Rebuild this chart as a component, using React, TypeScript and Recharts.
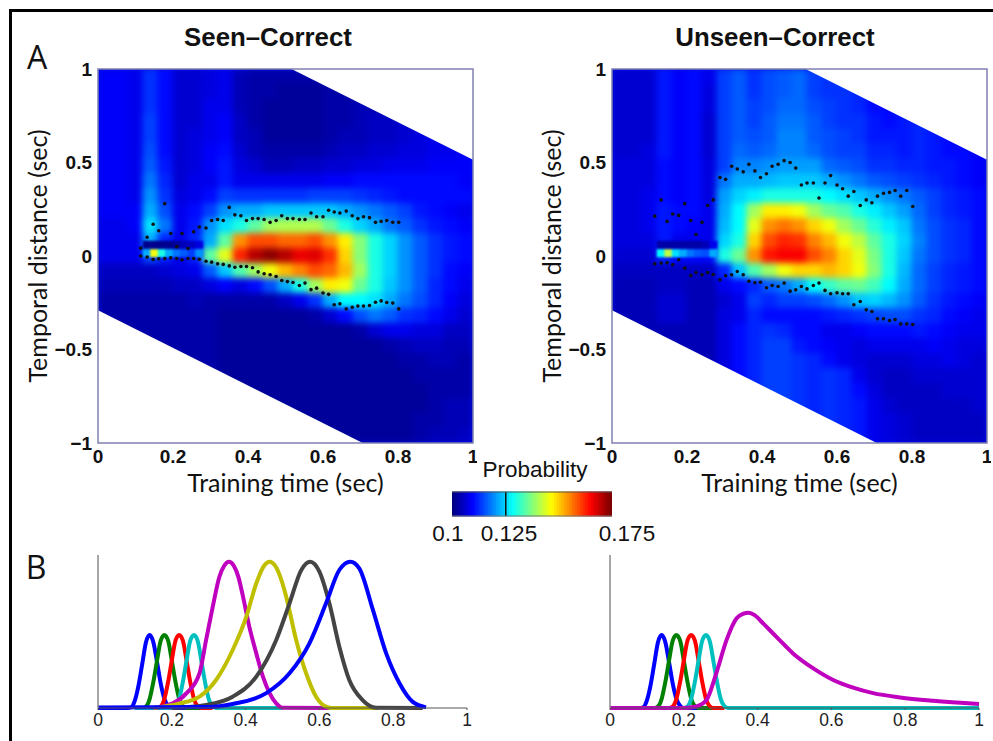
import {
  ScatterChart, Scatter, ComposedChart, LineChart, BarChart, Bar, Line, Area, Cell,
  XAxis, YAxis, ReferenceArea, ReferenceLine
} from 'recharts'

// heat map grid, values are probability x 1000
const colX = [.02,.06,.10,.14,.18,.22,.26,.30,.34,.38,.42,.46,.50,.54,.58,.62,.66,.70,.74,.78,.82,.86,.90,.94,.98]
const rowY = [.96,.88,.80,.72,.64,.56,.48,.40,.32,.24,.16,.08,0,-.08,-.16,-.24,-.32,-.40,-.48,-.56,-.64,-.72,-.80,-.88,-.96]

const seenRows = [
  [109,109,108,113,110,106,106,107,108,104,103,103,103,103,103,103,104,104,105,105,106,106,107,107,108],
  [109,109,108,113,110,106,106,107,108,104,103,103,102,102,102,103,103,104,104,105,105,106,107,107,108],
  [109,109,108,113,110,106,106,108,108,104,103,102,102,102,102,103,103,104,104,105,105,106,107,108,108],
  [109,109,108,114,110,106,106,108,109,105,103,102,102,102,102,103,103,104,105,105,106,106,107,108,108],
  [109,109,108,114,110,106,107,108,109,105,104,102,102,102,102,103,104,104,105,105,106,107,108,108,109],
  [109,109,108,115,110,106,107,109,110,106,104,103,103,103,103,104,105,105,106,106,107,107,108,108,109],
  [109,109,108,116,111,106,107,109,111,107,106,104,104,105,105,106,106,107,107,108,108,108,109,109,109],
  [109,109,108,118,112,106,108,108,111,108,108,108,108,108,108,109,109,110,110,110,110,110,110,110,109],
  [109,109,108,120,113,107,108,110,114,113,113,113,113,113,114,114,114,113,112,111,110,110,110,110,110],
  [109,109,109,122,115,108,110,114,120,122,122,124,124,124,124,124,122,120,118,116,114,111,110,109,108],
  [108,108,109,126,118,108,111,120,126,130,135,140,141,141,141,136,130,125,122,118,116,113,111,110,109],
  [108,108,108,122,112,108,112,122,135,155,160,160,158,158,160,155,148,138,130,125,120,116,113,111,110],
  [108,108,108,115,112,108,112,135,145,163,171,174,171,167,168,162,150,138,130,125,120,116,113,111,110],
  [105,105,105,105,106,107,108,116,124,134,140,146,152,156,160,158,152,140,130,125,120,116,113,110,109],
  [104,104,104,104,104,105,105,107,109,107,110,115,122,130,140,148,146,136,130,124,120,116,112,110,108],
  [103,103,103,103,103,103,104,103,103,103,103,103,105,108,113,122,128,128,126,122,118,115,112,109,107],
  [103,103,103,103,103,103,103,103,102,102,102,102,102,102,103,106,110,115,118,116,113,112,110,108,106],
  [103,103,103,103,103,103,103,103,102,102,102,102,102,102,102,102,102,103,106,108,108,107,107,105,105],
  [103,103,103,103,103,103,103,103,102,102,102,102,102,102,102,102,102,102,102,103,104,105,105,104,104],
  [103,103,103,103,103,103,103,103,102,102,102,102,102,102,102,102,102,102,102,102,103,103,104,104,103],
  [103,103,103,103,103,103,103,103,102,102,102,102,102,102,102,102,102,102,102,102,102,103,103,103,103],
  [103,103,103,103,103,103,103,103,102,102,102,102,102,102,102,102,102,102,102,102,102,102,103,103,103],
  [103,103,103,103,103,103,103,103,102,102,102,102,102,102,102,102,102,102,102,102,102,102,103,104,104],
  [103,103,103,103,103,103,103,103,102,102,102,102,102,102,102,102,102,102,102,102,102,103,103,104,104],
  [103,103,103,103,103,103,103,103,102,102,102,102,102,102,102,102,102,102,102,102,102,103,104,104,105],
]

const unseenRows = [
  [106,106,106,111,109,110,108,114,116,113,115,116,117,114,113,113,112,110,110,111,112,111,110,109,108],
  [106,106,106,111,109,110,107,114,116,113,115,116,117,114,113,113,112,110,110,111,112,111,110,109,108],
  [106,106,106,111,109,110,107,114,116,114,115,117,117,115,114,113,112,110,110,111,112,111,110,109,108],
  [106,106,106,111,109,110,106,114,116,114,116,118,118,116,114,113,113,111,110,111,112,111,110,109,108],
  [106,106,106,111,109,110,106,114,116,115,116,119,119,116,115,114,113,111,111,111,112,111,110,109,108],
  [106,106,107,111,109,110,106,114,117,116,117,119,119,117,115,114,114,112,112,111,112,111,110,110,109],
  [107,107,107,110,109,110,107,114,119,119,120,121,121,121,117,116,115,113,113,112,112,111,111,110,109],
  [107,107,107,110,109,110,107,118,122,122,123,124,124,124,122,120,118,116,115,114,113,112,111,110,109],
  [107,107,108,110,109,110,107,121,125,127,130,130,130,130,128,126,124,122,120,118,116,114,112,111,110],
  [107,107,108,111,110,110,108,122,128,140,148,148,146,140,136,134,130,127,124,121,117,114,112,111,110],
  [107,107,108,111,110,109,108,123,128,145,155,157,155,150,146,140,136,131,127,124,118,115,113,112,110],
  [107,107,107,111,108,108,108,125,130,150,160,163,162,156,152,146,142,135,130,125,119,115,113,112,110],
  [106,106,106,112,110,110,110,130,136,155,164,166,166,160,156,150,145,137,130,124,118,115,113,112,110],
  [105,105,105,105,105,105,105,112,124,134,140,146,150,150,152,150,146,138,130,123,117,114,112,111,110],
  [104,104,104,105,105,104,104,108,110,112,116,118,122,128,132,135,136,133,128,122,117,114,112,111,110],
  [104,104,104,106,106,104,104,106,108,114,112,114,114,115,117,120,124,125,123,120,116,113,111,110,109],
  [104,104,104,106,106,104,104,107,108,112,110,110,110,110,111,112,113,114,115,115,113,112,110,109,108],
  [104,104,104,104,104,104,104,107,110,112,113,112,110,110,108,108,109,110,110,110,111,110,109,108,108],
  [104,104,104,104,104,104,104,107,110,112,114,114,111,110,109,108,107,108,108,108,108,109,108,107,107],
  [104,104,104,104,104,104,104,107,110,112,114,114,113,112,110,108,107,106,106,106,107,107,108,107,106],
  [104,104,104,104,104,104,104,107,110,112,114,114,113,112,113,112,108,106,105,105,106,106,106,106,106],
  [104,104,104,104,104,104,104,107,110,112,114,114,113,112,113,112,110,107,105,105,105,105,106,106,106],
  [104,104,104,104,104,104,104,107,110,112,114,114,113,112,113,112,111,108,106,105,105,105,105,105,106],
  [104,104,104,104,104,104,104,107,110,112,114,114,113,112,113,112,111,108,107,106,105,105,105,105,105],
  [104,104,104,104,104,104,104,107,110,112,114,114,113,112,113,112,111,108,107,106,105,105,105,105,105],
]

// thin features around decoding onset, finer than the main grid
const onsetX = [.13,.15,.17,.19,.21,.23,.25,.27]
const seenDarkBand = [101,101,101,101,102,104,105,107]
const seenRidge = [122,146,130,122,118,116,114,120]
const unseenDarkBand = [103,103,103,103,103,103,104,108]
const unseenRidge = [128,142,126,122,118,116,115,122]

// significance dots
const dotX = [.114,.131,.147,.162,.178,.194,.21,.224,.24,.255,.27,.288,.303,.319,.334,.35,.365,.381,.396,.412,.427,.443,.459,.475,.49,.505,.52,.537,.552,.568,.583,.6,.615,.63,.645,.662,.678,.693,.708,.724,.74,.755,.77,.786,.802]
const seenUpper = [.042,.10,.17,.135,.28,.12,.05,.12,.04,.13,.155,.15,.19,.195,.19,.26,.22,.215,.19,.20,.20,.195,.18,.19,.215,.20,.20,.195,.195,.23,.21,.21,.245,.235,.23,.24,.215,.20,.21,.205,.18,.185,.19,.18,.18]
const seenLower = [0,-.006,-.019,-.015,-.014,-.010,-.013,-.02,-.013,-.013,-.017,-.028,-.033,-.042,-.045,-.053,-.06,-.056,-.056,-.063,-.085,-.095,-.1,-.11,-.131,-.137,-.142,-.158,-.145,-.18,-.172,-.198,-.205,-.261,-.256,-.283,-.274,-.268,-.268,-.265,-.247,-.24,-.249,-.252,-.283]
const unseenUpper = [.213,.30,.185,.225,.217,.28,.19,.115,.18,.27,.30,.42,.41,.48,.465,.45,.49,.455,.42,.44,.48,.49,.51,.50,.47,.38,.39,.39,.31,.39,.43,.38,.36,.32,.345,.27,.30,.285,.32,.335,.34,.35,.32,.35,.265]
const unseenLower = [-.042,-.038,-.036,-.047,-.02,-.065,-.104,-.088,-.1,-.088,-.099,-.127,-.106,-.1,-.083,-.1,-.135,-.143,-.14,-.17,-.158,-.163,-.145,-.188,-.181,-.163,-.176,-.158,-.145,-.184,-.202,-.197,-.202,-.202,-.261,-.243,-.288,-.297,-.336,-.336,-.345,-.34,-.363,-.363,-.366]

// blank corners of the time-by-time matrix
const maskTop = [{ x: .516, band: [1, 1] }, { x: 1, band: [.515, 1] }]
const maskBottom = [{ x: 0, band: [-1, -.29] }, { x: .706, band: [-1, -1] }]

const xTicks = [0, .2, .4, .6, .8, 1]
const yTicks = [-1, -.5, 0, .5, 1]
const colorbarSteps = [100,101.25,102.5,103.75,105,106.25,107.5,108.75,110,111.25,112.5,113.75,115,116.25,117.5,118.75,120,121.25,122.5,123.75,125,126.25,127.5,128.75,130,131.25,132.5,133.75,135,136.25,137.5,138.75,140,141.25,142.5,143.75,145,146.25,147.5,148.75,150,151.25,152.5,153.75,155,156.25,157.5,158.75,160,161.25,162.5,163.75,165,166.25,167.5,168.75,170,171.25,172.5,173.75,175]

// template time courses, [time, amplitude]
const seenCurves = [
  { color: '#0000ff', pts: [[0,0],[.08,0],[.09,.005],[.10,.05],[.11,.15],[.12,.29],[.13,.43],[.14,.477],[.15,.43],[.16,.3],[.17,.16],[.18,.06],[.19,.015],[.20,0],[.3,0]] },
  { color: '#008000', pts: [[.1,0],[.12,0],[.13,.01],[.14,.06],[.15,.17],[.16,.31],[.17,.44],[.18,.477],[.19,.44],[.20,.31],[.21,.17],[.22,.06],[.23,.012],[.24,0],[.3,0]] },
  { color: '#ff0000', pts: [[.1,0],[.16,0],[.17,.01],[.18,.06],[.19,.17],[.20,.31],[.21,.44],[.22,.477],[.23,.44],[.24,.31],[.25,.17],[.26,.06],[.27,.012],[.28,0],[.31,0]] },
  { color: '#00bfbf', pts: [[.1,0],[.2,0],[.21,.01],[.22,.06],[.23,.17],[.24,.31],[.25,.44],[.26,.477],[.27,.44],[.28,.31],[.29,.17],[.30,.06],[.31,.012],[.32,0],[.5,0]] },
  { color: '#bf00bf', pts: [[.15,0],[.203,.03],[.24,.097],[.275,.227],[.293,.445],[.311,.662],[.329,.858],[.342,.93],[.355,.956],[.368,.93],[.38,.86],[.393,.728],[.41,.532],[.429,.357],[.447,.205],[.465,.097],[.483,.03],[.5,.002],[.63,0]] },
  { color: '#bfbf00', pts: [[.15,0],[.221,.03],[.275,.074],[.32,.183],[.365,.379],[.402,.597],[.429,.815],[.45,.93],[.465,.956],[.48,.93],[.495,.85],[.51,.728],[.537,.445],[.564,.227],[.591,.074],[.618,.009],[.636,0],[.76,0]] },
  { color: '#444444', pts: [[.2,0],[.293,.02],[.365,.074],[.429,.205],[.483,.445],[.519,.684],[.551,.902],[.575,.956],[.6,.891],[.627,.684],[.654,.401],[.681,.183],[.717,.052],[.754,.002],[.88,0]] },
  { color: '#0000ff', pts: [[0,.004],[.3,.006],[.365,.026],[.456,.097],[.519,.227],[.573,.423],[.618,.684],[.654,.902],[.684,.956],[.708,.913],[.745,.641],[.781,.357],[.817,.162],[.853,.04],[.889,.004]] },
]
const unseenCurves = [
  { color: '#0000ff', pts: [[0,0],[.08,0],[.09,.005],[.10,.05],[.11,.15],[.12,.29],[.13,.43],[.14,.477],[.15,.43],[.16,.3],[.17,.16],[.18,.06],[.19,.015],[.20,0],[.3,0]] },
  { color: '#008000', pts: [[.1,0],[.12,0],[.13,.01],[.14,.06],[.15,.17],[.16,.31],[.17,.44],[.18,.477],[.19,.44],[.20,.31],[.21,.17],[.22,.06],[.23,.012],[.24,0],[.3,0]] },
  { color: '#ff0000', pts: [[.1,0],[.16,0],[.17,.01],[.18,.06],[.19,.17],[.20,.31],[.21,.44],[.22,.477],[.23,.44],[.24,.31],[.25,.17],[.26,.06],[.27,.012],[.28,0],[.31,0]] },
  { color: '#00bfbf', pts: [[.1,0],[.2,0],[.21,.01],[.22,.06],[.23,.17],[.24,.31],[.25,.44],[.26,.477],[.27,.44],[.28,.31],[.29,.17],[.30,.06],[.31,.012],[.32,0],[1,0]] },
  { color: '#bf00bf', pts: [[0,0],[.2,0],[.234,.01],[.261,.05],[.288,.227],[.316,.445],[.343,.586],[.36,.615],[.376,.623],[.392,.607],[.415,.553],[.451,.465],[.496,.357],[.551,.259],[.605,.183],[.659,.133],[.713,.097],[.786,.069],[.876,.047],[1,.026]] },
]

function heatColor(v: number) {
  const t = Math.min(1, Math.max(0, (v - 100) / 75))
  const ramp = (d: number) => Math.round(255 * Math.min(1, Math.max(0, 1.5 - Math.abs(4 * t - d))))
  return `rgb(${ramp(3)},${ramp(2)},${ramp(1)})`
}

const HeatCell = ({ cx, cy, payload, size }: any) => (
  <rect x={cx - size / 2} y={cy - size / 2} width={size} height={size} fill={heatColor(payload.v)} />
)
const Dot = ({ cx, cy }: any) => <circle cx={cx} cy={cy} r={1.8} fill="#111" />

const tickFont = { fontFamily: 'Liberation Sans', fontWeight: 700, fontSize: 19, fill: '#111' }
const labelFont = { fontFamily: 'Lato', fontSize: 25, fill: '#111' }

function toCells(rows: number[][]) {
  return rows.flatMap((r, i) => r.map((v, j) => ({ x: colX[j], y: rowY[i], v })))
}

function HeatPanel({ left, rows, dark, ridge, upper, lower }: any) {
  const plotW = 375
  const plotH = 374
  const detail = [
    ...onsetX.map((x, i) => ({ x, y: .06, v: dark[i] })),
    ...onsetX.map((x, i) => ({ x, y: .015, v: ridge[i] })),
  ]
  const dots = [
    ...dotX.map((x, i) => ({ x, y: upper[i] })),
    ...dotX.map((x, i) => ({ x, y: lower[i] })),
  ]
  return (
    <>
      <div style={{ position: 'absolute', left, top: 69, width: plotW, height: plotH, overflow: 'hidden', background: '#0014e6' }}>
        <div style={{ position: 'absolute', left: 0, top: 0, filter: 'blur(3.2px)' }}>
          <ScatterChart width={plotW} height={plotH} margin={{ top: 0, right: 0, bottom: 0, left: 0 }}>
            <XAxis type="number" dataKey="x" domain={[0, 1]} hide />
            <YAxis type="number" dataKey="y" domain={[-1, 1]} hide />
            <Scatter data={toCells(rows)} isAnimationActive={false} shape={(p: any) => <HeatCell {...p} size={16} />} />
          </ScatterChart>
        </div>
        <div style={{ position: 'absolute', left: 0, top: 0, filter: 'blur(1.2px)' }}>
          <ScatterChart width={plotW} height={plotH} margin={{ top: 0, right: 0, bottom: 0, left: 0 }}>
            <XAxis type="number" dataKey="x" domain={[0, 1]} hide />
            <YAxis type="number" dataKey="y" domain={[-1, 1]} hide />
            <Scatter data={detail} isAnimationActive={false} shape={(p: any) => <HeatCell {...p} size={8} />} />
          </ScatterChart>
        </div>
      </div>
      <div style={{ position: 'absolute', left: left - 84, top: 55 }}>
        <ComposedChart width={84 + plotW + 4} height={455} margin={{ top: 14, right: 4, bottom: 0, left: 0 }}>
          <XAxis type="number" dataKey="x" domain={[0, 1]} ticks={xTicks} height={67} axisLine={false} tickSize={0} tickMargin={7}
            tick={tickFont} interval={0} allowDuplicatedCategory={false}
            label={{ value: 'Training time (sec)', position: 'insideBottom', offset: 18, style: labelFont }} />
          <YAxis type="number" domain={[-1, 1]} ticks={yTicks} width={84} axisLine={false} tickSize={0} tickMargin={6} interval={0}
            tick={tickFont} tickFormatter={(v: number) => (v < 0 ? `\u2212${-v}` : `${v}`)}
            label={{ value: 'Temporal distance (sec)', angle: -90, position: 'insideLeft', offset: 24, style: { ...labelFont, textAnchor: 'middle' } }} />
          <Area data={maskTop} dataKey="band" type="linear" stroke="none" fill="#fff" fillOpacity={1} isAnimationActive={false} dot={false} activeDot={false} />
          <Area data={maskBottom} dataKey="band" type="linear" stroke="none" fill="#fff" fillOpacity={1} isAnimationActive={false} dot={false} activeDot={false} />
          <Scatter data={dots} dataKey="y" isAnimationActive={false} shape={Dot} />
          <ReferenceArea x1={0} x2={1} y1={-1} y2={1} fill="none" stroke="#8080b0" strokeWidth={1.5} ifOverflow="visible" />
        </ComposedChart>
      </div>
    </>
  )
}

function CurvePanel({ left, curves }: any) {
  return (
    <div style={{ position: 'absolute', left: left - 10, top: 550 }}>
      <LineChart width={395} height={185} margin={{ top: 5, right: 16, bottom: 0, left: 0 }}>
        <XAxis type="number" dataKey="x" domain={[0, 1]} ticks={xTicks} interval={0} height={27} allowDuplicatedCategory={false}
          axisLine={{ stroke: '#555' }} tickLine={{ stroke: '#555' }} tickSize={2} tickMargin={4}
          tick={{ fontFamily: 'Liberation Sans', fontSize: 17.5, fill: '#222' }} />
        <YAxis type="number" domain={[0, 1]} width={10} tick={false} tickLine={false} axisLine={{ stroke: '#888', strokeWidth: 1.5 }} />
        {curves.map((c: any, i: number) => (
          <Line key={i} data={c.pts.map(([x, y]: number[]) => ({ x, y }))} dataKey="y" type="monotone" stroke={c.color}
            strokeWidth={4} dot={false} activeDot={false} isAnimationActive={false} />
        ))}
      </LineChart>
    </div>
  )
}

const Txt = ({ x, y, size, bold, family, children }: any) => (
  <div style={{
    position: 'absolute', left: x, top: y, transform: 'translate(-50%, -50%)', whiteSpace: 'nowrap',
    fontFamily: family || 'Liberation Sans', fontSize: size, fontWeight: bold ? 700 : 400, color: '#111'
  }}>{children}</div>
)

export default function App() {
  return (
    <div style={{ position: 'absolute', left: 0, top: 0, width: 993, height: 741, background: '#fff', overflow: 'hidden' }}>
      <div style={{ position: 'absolute', left: 9, top: 9, width: 3, height: 732, background: '#000' }} />
      <div style={{ position: 'absolute', left: 9, top: 9, width: 984, height: 3, background: '#000' }} />

      <Txt x={268} y={37} size={25.8} bold>Seen–Correct</Txt>
      <Txt x={775} y={37} size={25.8} bold>Unseen–Correct</Txt>
      <Txt x={37} y={56} size={32} family="Open Sans">A</Txt>
      <Txt x={36} y={566} size={32} family="Open Sans">B</Txt>

      <HeatPanel left={98} rows={seenRows} dark={seenDarkBand} ridge={seenRidge} upper={seenUpper} lower={seenLower} />
      <HeatPanel left={612} rows={unseenRows} dark={unseenDarkBand} ridge={unseenRidge} upper={unseenUpper} lower={unseenLower} />

      <Txt x={535} y={470} size={22.5}>Probability</Txt>
      <div style={{ position: 'absolute', left: 452, top: 490 }}>
        <BarChart width={160} height={27} data={colorbarSteps.map((v) => ({ v, h: 1 }))} barCategoryGap={0} margin={{ top: 2, right: 0, bottom: 1, left: 0 }}>
          <XAxis dataKey="v" hide />
          <YAxis domain={[0, 1]} hide />
          <Bar dataKey="h" isAnimationActive={false}>
            {colorbarSteps.map((v) => <Cell key={v} fill={heatColor(v)} stroke={heatColor(v)} />)}
          </Bar>
          <ReferenceLine x={125} stroke="#111" strokeWidth={1.5} />
          <ReferenceLine y={1} stroke="#555" />
          <ReferenceLine y={0} stroke="#777" />
        </BarChart>
      </div>
      <Txt x={448} y={534} size={22.5}>0.1</Txt>
      <Txt x={509} y={534} size={22.5}>0.125</Txt>
      <Txt x={627} y={534} size={22.5}>0.175</Txt>

      <CurvePanel left={98} curves={seenCurves} />
      <CurvePanel left={610} curves={unseenCurves} />
    </div>
  )
}
